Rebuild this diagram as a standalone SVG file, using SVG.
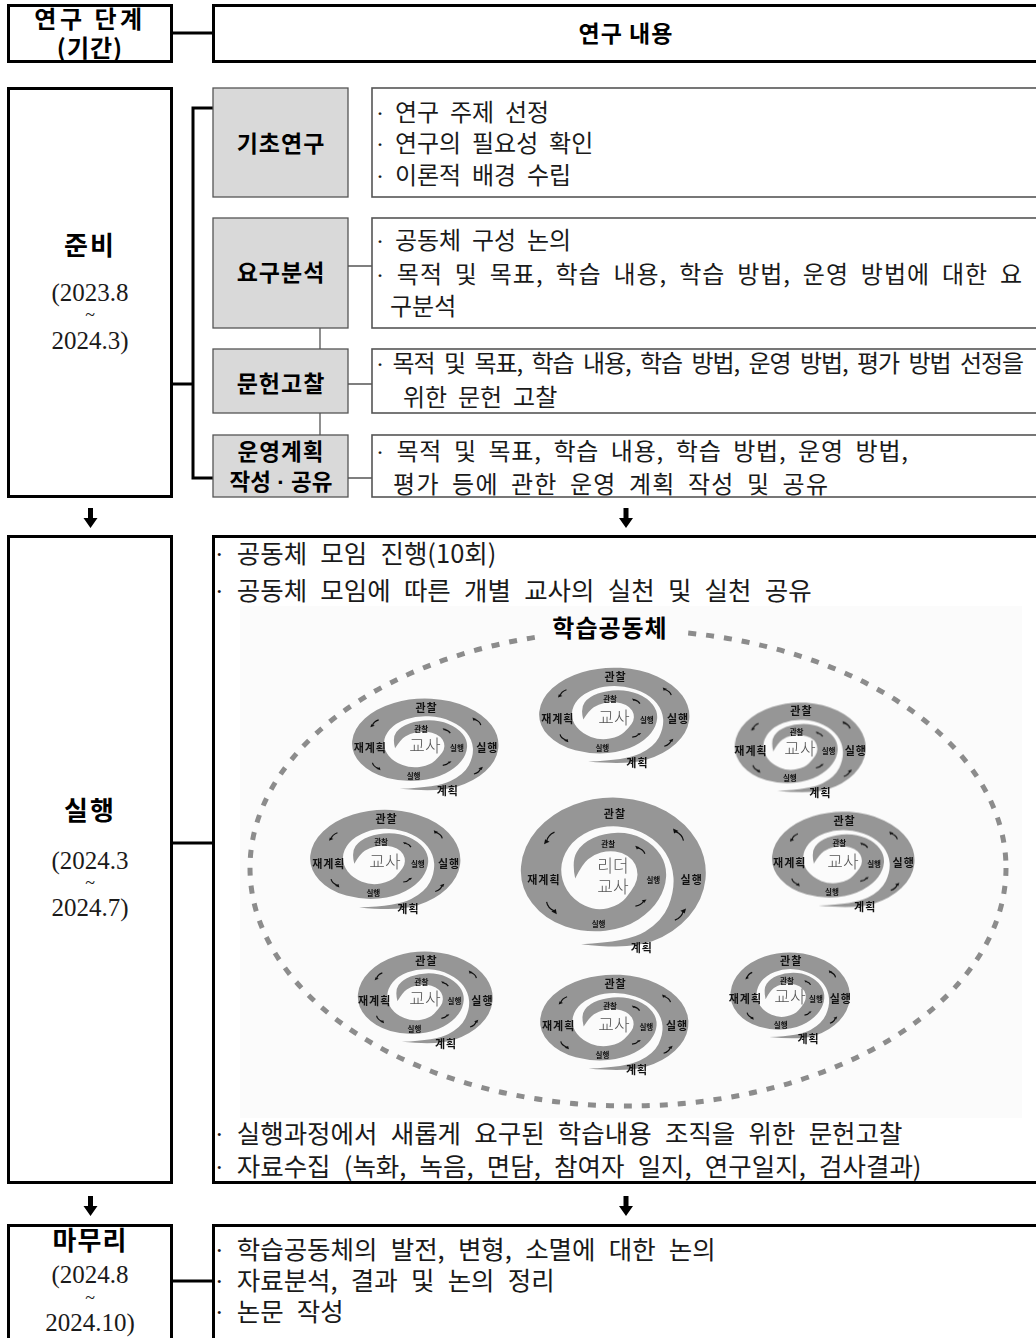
<svg xmlns="http://www.w3.org/2000/svg" xmlns:xlink="http://www.w3.org/1999/xlink" width="1036" height="1338" viewBox="0 0 1036 1338">
  <style>
    .frame { fill: #fff; stroke: #000; stroke-width: 3; }
    .step { fill: #d9d9d9; stroke: #555; stroke-width: 1.3; }
    .note { fill: #fff; stroke: #555; stroke-width: 1.6; }
    .thick { fill: none; stroke: #000; stroke-width: 3; }
    .thin { fill: none; stroke: #555; stroke-width: 1.3; }
    .arrow { fill: #000; }
    .hd { font-family: "Noto Sans CJK KR", "Noto Sans", sans-serif; font-weight: 700; fill: #000; text-anchor: middle; }
    .body { font-family: "Noto Sans CJK KR", sans-serif; font-weight: 400; font-size: 24px; word-spacing: 5.5px; fill: #1a1a1a; }
    .body2 { font-family: "Noto Sans CJK KR", sans-serif; font-weight: 400; font-size: 25.5px; word-spacing: 7.5px; fill: #1a1a1a; }
    .dot { font-family: "Liberation Serif", serif; }
    .sdot { font-family: "Liberation Sans", sans-serif; }
    .num { font-family: "Liberation Serif", serif; font-size: 25px; fill: #1a1a1a; text-anchor: middle; }
    .tilde { font-family: "Liberation Serif", serif; font-size: 18px; fill: #1a1a1a; text-anchor: middle; }
    .band { fill: #969696; }
    .tk { fill: none; stroke: #111; stroke-width: 1.2; vector-effect: non-scaling-stroke; }
    .tkh { fill: #111; }
    .lo { font-family: "Noto Sans CJK KR", sans-serif; font-weight: 700; font-size: 11px; letter-spacing: 1px; fill: #111; text-anchor: middle; }
    .li { font-family: "Noto Sans CJK KR", sans-serif; font-weight: 700; font-size: 7.5px; fill: #111; text-anchor: middle; }
    .who { font-family: "Noto Sans CJK KR", sans-serif; font-weight: 300; font-size: 17px; fill: #555; text-anchor: middle; }
    .ring { fill: none; stroke: #8c8c8c; stroke-width: 5; stroke-dasharray: 8 10; }
  </style>
  <defs>
    <filter id="soft" x="-5%" y="-5%" width="110%" height="110%">
      <feGaussianBlur stdDeviation="0.6"/>
    </filter>
    <!-- small curved flow arrow, pointing along -y (the spiral's direction of travel) -->
    <g id="tick">
      <path class="tk" d="M0 8 Q3.5 1 0 -6"/>
      <polygon class="tkh" points="0,-11 -2.8,-5 2.8,-5"/>
    </g>
    <!-- tapered spiral band on a unit circle of radius 100 -->
    <g id="spiral">
      <path class="band" d="M -33.2 91.2 Q 17.4 98.5 40.9 87.6 Q 64.3 76.6 79.2 55.4 Q 94 34.2 96.3 8.4 Q 98.5 -17.4 87.6 -40.9 Q 76.6 -64.3 55.4 -79.2 Q 34.2 -94 8.4 -96.3 Q -17.4 -98.5 -40.9 -87.6 Q -64.3 -76.6 -79.2 -55.4 Q -94 -34.2 -95.8 -8.5 Q -97.5 17.2 -84.4 38.5 Q -71.2 59.8 -49.6 68.5 Q -28 77.1 -7.8 74 Q 12.5 70.9 26.5 59.6 Q 40.5 48.3 47.5 34.1 Q 54.5 19.8 55.3 5 Q 56.1 -9.9 49.5 -23 Q 42.9 -36 30.9 -43.9 Q 18.8 -51.7 4.9 -51.5 Q -9 -51.2 -20.6 -44.8 Q -32.2 -38.3 -37.7 -27 Q -43.2 -15.7 -39.4 7 Q -32 -11.6 -26 -17.7 Q -19.9 -23.7 -12.5 -26.2 Q -5 -28.6 2.3 -27.5 Q 9.6 -26.3 15.2 -21.9 Q 20.7 -17.4 23.2 -11 Q 25.6 -4.5 25.5 2.4 Q 25.4 9.2 22.4 16.1 Q 19.3 23 13.3 32.2 Q 7.3 41.4 -5.3 45.2 Q -17.8 48.9 -29.6 41.8 Q -41.4 34.7 -47.8 22.2 Q -54.2 9.6 -53.9 -5 Q -53.6 -19.5 -46.1 -32.8 Q -38.6 -46 -24.7 -53.6 Q -10.8 -61.1 5.2 -59.7 Q 21.2 -58.3 34.4 -49.1 Q 47.5 -39.9 54.8 -25.5 Q 62.1 -11 63 6.2 Q 63.9 23.3 57.7 42.3 Q 51.4 61.3 33.6 75 Q 15.7 88.7 -33.2 91.2 Z"/>
      <use xlink:href="#tick" transform="rotate(-145) translate(80 0)"/>
      <use xlink:href="#tick" transform="rotate(-35) translate(84 0)"/>
      <use xlink:href="#tick" transform="rotate(146) translate(78 0)"/>
      <use xlink:href="#tick" transform="rotate(38) translate(88 0)"/>
      <use xlink:href="#tick" transform="rotate(-45) translate(41 0) scale(0.75)"/>
      <use xlink:href="#tick" transform="rotate(54) translate(48 0) scale(0.75)"/>
    </g>
  </defs>

  <rect width="1036" height="1338" fill="#fff"/>

  <!-- connectors -->
  <g id="connectors">
    <path class="thick" d="M172 33 H213"/>
    <path class="thick" d="M172 384 H193"/>
    <path class="thick" d="M213 108 H193 V478 H213"/>
    <path class="thin" d="M320 328 V349 M320 413 V435"/>
    <path class="thin" d="M348 266 H372 M348 384 H372 M348 478 H372"/>
    <path class="thick" d="M172 843 H213"/>
    <path class="thick" d="M172 1281 H213"/>
    <path class="arrow" d="M88 508 h5 v10 h4.5 l-7 10 l-7 -10 h4.5 z"/>
    <path class="arrow" d="M623.5 508 h5 v10 h4.5 l-7 10 l-7 -10 h4.5 z"/>
    <path class="arrow" d="M88 1196 h5 v10 h4.5 l-7 10 l-7 -10 h4.5 z"/>
    <path class="arrow" d="M623.5 1196 h5 v10 h4.5 l-7 10 l-7 -10 h4.5 z"/>
  </g>

  <!-- header row -->
  <g id="hdr-stage">
    <rect class="frame" x="8.5" y="5.5" width="163" height="56"/>
    <text class="hd" x="90" y="28" font-size="24" letter-spacing="3.5">연구 단계</text>
    <text class="hd" x="90" y="57" font-size="24" letter-spacing="1">(기간)</text>
  </g>
  <g id="hdr-content">
    <rect class="frame" x="213.5" y="5.5" width="830" height="56"/>
    <text class="hd" x="626" y="42" font-size="23" letter-spacing="1">연구 내용</text>
  </g>

  <!-- stage 1: preparation -->
  <g id="stage-prep">
    <rect class="frame" x="8.5" y="88.5" width="163" height="408"/>
    <text class="hd" x="90" y="255" font-size="26" letter-spacing="2">준비</text>
    <text class="num" x="90" y="301">(2023.8</text>
    <text class="tilde" x="90" y="321">~</text>
    <text class="num" x="90" y="349">2024.3)</text>
  </g>

  <g id="basic">
    <rect class="step" x="213" y="88" width="135" height="109"/>
    <text class="hd" x="281" y="152" font-size="23" letter-spacing="1">기초연구</text>
  </g>
  <g id="basic-note">
    <rect class="note" x="372" y="88" width="680" height="109"/>
    <text class="body" x="376" y="121"><tspan class="dot">·</tspan> 연구 주제 선정</text>
    <text class="body" x="376" y="152"><tspan class="dot">·</tspan> 연구의 필요성 확인</text>
    <text class="body" x="376" y="184"><tspan class="dot">·</tspan> 이론적 배경 수립</text>
  </g>

  <g id="needs">
    <rect class="step" x="213" y="218" width="135" height="110"/>
    <text class="hd" x="281" y="281" font-size="23" letter-spacing="1">요구분석</text>
  </g>
  <g id="needs-note">
    <rect class="note" x="372" y="218" width="680" height="110"/>
    <text class="body" x="376" y="249"><tspan class="dot">·</tspan> 공동체 구성 논의</text>
    <text class="body" x="376" y="283" textLength="646" lengthAdjust="spacing"><tspan class="dot">·</tspan> 목적 및 목표, 학습 내용, 학습 방법, 운영 방법에 대한 요</text>
    <text class="body" x="390" y="315">구분석</text>
  </g>

  <g id="review">
    <rect class="step" x="213" y="349" width="135" height="64"/>
    <text class="hd" x="281" y="392" font-size="23" letter-spacing="1">문헌고찰</text>
  </g>
  <g id="review-note">
    <rect class="note" x="372" y="349" width="680" height="64"/>
    <text class="body" x="376" y="372" textLength="648" lengthAdjust="spacing"><tspan class="dot">·</tspan> 목적 및 목표, 학습 내용, 학습 방법, 운영 방법, 평가 방법 선정을</text>
    <text class="body" x="403" y="406">위한 문헌 고찰</text>
  </g>

  <g id="plan">
    <rect class="step" x="213" y="435" width="135" height="62"/>
    <text class="hd" x="281" y="460" font-size="22.5" letter-spacing="1">운영계획</text>
    <text class="hd" x="281" y="490" font-size="22.5">작성<tspan class="sdot"> · </tspan>공유</text>
  </g>
  <g id="plan-note">
    <rect class="note" x="372" y="435" width="680" height="62"/>
    <text class="body" x="376" y="460" textLength="532" lengthAdjust="spacing"><tspan class="dot">·</tspan> 목적 및 목표, 학습 내용, 학습 방법, 운영 방법,</text>
    <text class="body" x="393" y="493" textLength="435" lengthAdjust="spacing">평가 등에 관한 운영 계획 작성 및 공유</text>
  </g>

  <!-- stage 2: action -->
  <g id="stage-action">
    <rect class="frame" x="8.5" y="536.5" width="163" height="646"/>
    <text class="hd" x="90" y="820" font-size="26" letter-spacing="2">실행</text>
    <text class="num" x="90" y="869">(2024.3</text>
    <text class="tilde" x="90" y="889">~</text>
    <text class="num" x="90" y="916">2024.7)</text>
  </g>
  <g id="action-note">
    <rect class="frame" x="213.5" y="536.5" width="830" height="646"/>
    <text class="body2" x="215" y="563"><tspan class="dot">·</tspan> 공동체 모임 진행(10회)</text>
    <text class="body2" x="215" y="600"><tspan class="dot">·</tspan> 공동체 모임에 따른 개별 교사의 실천 및 실천 공유</text>
    <text class="body2" x="215" y="1143"><tspan class="dot">·</tspan> 실행과정에서 새롭게 요구된 학습내용 조직을 위한 문헌고찰</text>
    <text class="body2" x="215" y="1176"><tspan class="dot">·</tspan> 자료수집 (녹화, 녹음, 면담, 참여자 일지, 연구일지, 검사결과)</text>
  </g>

  <!-- learning community figure -->
  <g id="community">
    <rect x="240" y="606" width="782" height="512" fill="#fbfbfb"/>
    <ellipse class="ring" cx="628" cy="868" rx="378" ry="238" filter="url(#soft)"/>
    <rect x="540" y="612" width="142" height="34" fill="#fbfbfb"/>
    <text class="hd" x="610" y="637" font-size="24" letter-spacing="1">학습공동체</text>

    <g filter="url(#soft)">
      <use xlink:href="#spiral" transform="translate(425 745) scale(0.76 0.48)"/>
      <use xlink:href="#spiral" transform="translate(614 716) scale(0.78 0.50)"/>
      <use xlink:href="#spiral" transform="translate(800 748) scale(0.68 0.47)"/>
      <use xlink:href="#spiral" transform="translate(385 860) scale(0.78 0.52)"/>
      <use xlink:href="#spiral" transform="translate(613 873) scale(0.96 0.78)"/>
      <use xlink:href="#spiral" transform="translate(843 860) scale(0.74 0.50)"/>
      <use xlink:href="#spiral" transform="translate(425 998) scale(0.70 0.48)"/>
      <use xlink:href="#spiral" transform="translate(614 1023) scale(0.77 0.50)"/>
      <use xlink:href="#spiral" transform="translate(790 996) scale(0.62 0.45)"/>
    </g>

    <g id="cycle-tl" transform="translate(425 745)">
      <text class="lo" x="1.5" y="-33.5">관찰</text>
      <text class="lo" x="-54.7" y="7.3">재계획</text>
      <text class="lo" x="62.3" y="7.3">실행</text>
      <text class="lo" x="22.8" y="49.5">계획</text>
      <text class="li" x="-3.8" y="-13.2">관찰</text>
      <text class="li" x="31.9" y="6.4">실행</text>
      <text class="li" x="-11.4" y="33.8">실행</text>
      <text class="who" x="0" y="7.4">교사</text>
    </g>
    <g id="cycle-tc" transform="translate(614 716)">
      <text class="lo" x="1.6" y="-35.1">관찰</text>
      <text class="lo" x="-56.2" y="7.4">재계획</text>
      <text class="lo" x="64" y="7.4">실행</text>
      <text class="lo" x="23.4" y="51.4">계획</text>
      <text class="li" x="-3.9" y="-13.9">관찰</text>
      <text class="li" x="32.8" y="6.6">실행</text>
      <text class="li" x="-11.7" y="35.1">실행</text>
      <text class="who" x="0" y="7.5">교사</text>
    </g>
    <g id="cycle-tr" transform="translate(800 748)">
      <text class="lo" x="1.4" y="-32.8">관찰</text>
      <text class="lo" x="-49" y="7.2">재계획</text>
      <text class="lo" x="55.8" y="7.2">실행</text>
      <text class="lo" x="20.4" y="48.5">계획</text>
      <text class="li" x="-3.4" y="-12.9">관찰</text>
      <text class="li" x="28.6" y="6.4">실행</text>
      <text class="li" x="-10.2" y="33.2">실행</text>
      <text class="who" x="0" y="7.4">교사</text>
    </g>
    <g id="cycle-ml" transform="translate(385 860)">
      <text class="lo" x="1.6" y="-36.7">관찰</text>
      <text class="lo" x="-56.2" y="7.5">재계획</text>
      <text class="lo" x="64" y="7.5">실행</text>
      <text class="lo" x="23.4" y="53.3">계획</text>
      <text class="li" x="-3.9" y="-14.6">관찰</text>
      <text class="li" x="32.8" y="6.8">실행</text>
      <text class="li" x="-11.7" y="36.4">실행</text>
      <text class="who" x="0" y="7.6">교사</text>
    </g>
    <g id="cycle-leader" transform="translate(613 873)">
      <text class="lo" x="1.9" y="-55.5" font-size="15">관찰</text>
      <text class="lo" x="-69.1" y="10.8" font-size="15">재계획</text>
      <text class="lo" x="78.7" y="10.8" font-size="15">실행</text>
      <text class="lo" x="28.8" y="79.4" font-size="15">계획</text>
      <text class="li" x="-4.8" y="-26" font-size="10">관찰</text>
      <text class="li" x="40.3" y="9.7" font-size="11">실행</text>
      <text class="li" x="-14.4" y="54.2" font-size="10">실행</text>
      <text class="who" x="0" y="-1" font-size="14.5">리더</text>
      <text class="who" x="0" y="20" font-size="14.5">교사</text>
    </g>
    <g id="cycle-mr" transform="translate(843 860)">
      <text class="lo" x="1.5" y="-35.1">관찰</text>
      <text class="lo" x="-53.3" y="7.4">재계획</text>
      <text class="lo" x="60.7" y="7.4">실행</text>
      <text class="lo" x="22.2" y="51.4">계획</text>
      <text class="li" x="-3.7" y="-13.9">관찰</text>
      <text class="li" x="31.1" y="6.6">실행</text>
      <text class="li" x="-11.1" y="35.1">실행</text>
      <text class="who" x="0" y="7.5">교사</text>
    </g>
    <g id="cycle-bl" transform="translate(425 998)">
      <text class="lo" x="1.4" y="-33.5">관찰</text>
      <text class="lo" x="-50.4" y="7.3">재계획</text>
      <text class="lo" x="57.4" y="7.3">실행</text>
      <text class="lo" x="21" y="49.5">계획</text>
      <text class="li" x="-3.5" y="-13.2">관찰</text>
      <text class="li" x="29.4" y="6.4">실행</text>
      <text class="li" x="-10.5" y="33.8">실행</text>
      <text class="who" x="0" y="7.4">교사</text>
    </g>
    <g id="cycle-bc" transform="translate(614 1023)">
      <text class="lo" x="1.5" y="-35.1">관찰</text>
      <text class="lo" x="-55.4" y="7.4">재계획</text>
      <text class="lo" x="63.1" y="7.4">실행</text>
      <text class="lo" x="23.1" y="51.4">계획</text>
      <text class="li" x="-3.9" y="-13.9">관찰</text>
      <text class="li" x="32.3" y="6.6">실행</text>
      <text class="li" x="-11.6" y="35.1">실행</text>
      <text class="who" x="0" y="7.5">교사</text>
    </g>
    <g id="cycle-br" transform="translate(790 996)">
      <text class="lo" x="1.2" y="-31.2">관찰</text>
      <text class="lo" x="-44.6" y="7.1">재계획</text>
      <text class="lo" x="50.8" y="7.1">실행</text>
      <text class="lo" x="18.6" y="46.7">계획</text>
      <text class="li" x="-3.1" y="-12.3">관찰</text>
      <text class="li" x="26" y="6.2">실행</text>
      <text class="li" x="-9.3" y="31.9">실행</text>
      <text class="who" x="0" y="7.4">교사</text>
    </g>
  </g>

  <!-- stage 3: wrap-up -->
  <g id="stage-wrap">
    <rect class="frame" x="8.5" y="1225.5" width="163" height="120"/>
    <text class="hd" x="90" y="1250" font-size="26" letter-spacing="1">마무리</text>
    <text class="num" x="90" y="1283">(2024.8</text>
    <text class="tilde" x="90" y="1304">~</text>
    <text class="num" x="90" y="1331">2024.10)</text>
  </g>
  <g id="wrap-note">
    <rect class="frame" x="213.5" y="1225.5" width="830" height="120"/>
    <text class="body2" x="215" y="1259"><tspan class="dot">·</tspan> 학습공동체의 발전, 변형, 소멸에 대한 논의</text>
    <text class="body2" x="215" y="1290"><tspan class="dot">·</tspan> 자료분석, 결과 및 논의 정리</text>
    <text class="body2" x="215" y="1321"><tspan class="dot">·</tspan> 논문 작성</text>
  </g>
</svg>
